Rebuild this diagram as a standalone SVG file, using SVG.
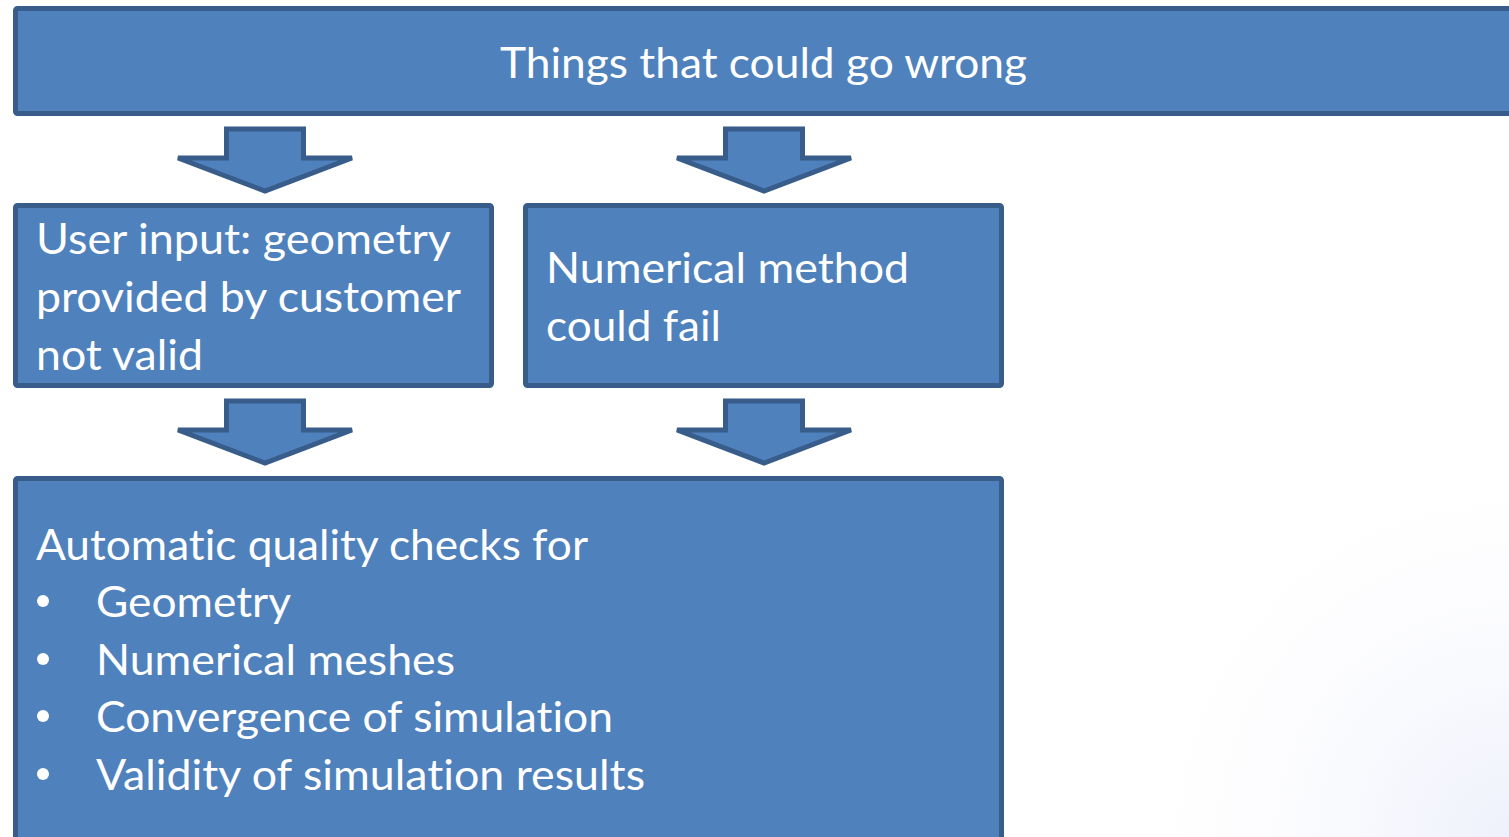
<svg xmlns="http://www.w3.org/2000/svg" width="1509" height="837" viewBox="0 0 1509 837">
  <defs>
    <radialGradient id="bgTint" cx="1509" cy="837" r="420" gradientUnits="userSpaceOnUse">
      <stop offset="0" stop-color="#eef0fb"/>
      <stop offset="1" stop-color="#ffffff" stop-opacity="0"/>
    </radialGradient>
    <polygon id="arrowShape" points="-38.5,0 38.5,0 38.5,29 87,29 0,62 -87,29 -38.5,29"/>
  </defs>
  <style>
    .box { fill: #4F81BD; stroke: #385D8A; stroke-width: 5; }
    .arrow { fill: #4F81BD; stroke: #385D8A; stroke-width: 5; stroke-linejoin: miter; }
    .t { font-family: Lato, "Open Sans", "Liberation Sans", sans-serif; font-size: 42px; fill: #ffffff; font-variant-ligatures: none; font-feature-settings: "liga" 0, "dlig" 0; }
    .bullet { fill: #ffffff; }
  </style>
  <rect x="0" y="0" width="1509" height="837" fill="#ffffff"/>
  <rect x="0" y="0" width="1509" height="837" fill="url(#bgTint)"/>

  <g id="connectors">
    <use href="#arrowShape" class="arrow" x="265" y="129"/>
    <use href="#arrowShape" class="arrow" x="764" y="129"/>
    <use href="#arrowShape" class="arrow" x="265" y="401"/>
    <use href="#arrowShape" class="arrow" x="764" y="401"/>
  </g>

  <g id="node-top">
    <rect class="box" x="15.5" y="8.5" width="1510" height="105" rx="2"/>
    <text class="t" x="500" y="78" textLength="527" lengthAdjust="spacingAndGlyphs">Things that could go wrong</text>
  </g>

  <g id="node-user-input">
    <rect class="box" x="15.5" y="205.5" width="476" height="180" rx="2"/>
    <text class="t" x="36" y="254" textLength="415" lengthAdjust="spacingAndGlyphs">User input: geometry</text>
    <text class="t" x="36" y="312" textLength="425" lengthAdjust="spacingAndGlyphs">provided by customer</text>
    <text class="t" x="36" y="370" textLength="167" lengthAdjust="spacingAndGlyphs">not valid</text>
  </g>

  <g id="node-numerical">
    <rect class="box" x="525.5" y="205.5" width="476" height="180" rx="2"/>
    <text class="t" x="546" y="283" textLength="363" lengthAdjust="spacingAndGlyphs">Numerical method</text>
    <text class="t" x="546" y="341" textLength="175" lengthAdjust="spacingAndGlyphs">could fail</text>
  </g>

  <g id="node-checks">
    <rect class="box" x="15.5" y="478.5" width="986" height="380" rx="2"/>
    <text class="t" x="36" y="560" textLength="552" lengthAdjust="spacingAndGlyphs">Automatic quality checks for</text>
    <circle class="bullet" cx="43" cy="601" r="6"/>
    <text class="t" x="96" y="617" textLength="195" lengthAdjust="spacingAndGlyphs">Geometry</text>
    <circle class="bullet" cx="43" cy="659" r="6"/>
    <text class="t" x="96" y="675" textLength="359" lengthAdjust="spacingAndGlyphs">Numerical meshes</text>
    <circle class="bullet" cx="43" cy="716" r="6"/>
    <text class="t" x="96" y="732" textLength="517" lengthAdjust="spacingAndGlyphs">Convergence of simulation</text>
    <circle class="bullet" cx="43" cy="774" r="6"/>
    <text class="t" x="96" y="790" textLength="549" lengthAdjust="spacingAndGlyphs">Validity of simulation results</text>
  </g>
</svg>
